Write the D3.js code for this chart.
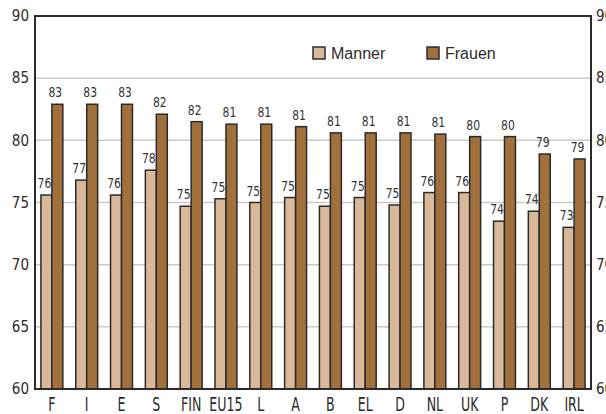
<!DOCTYPE html>
<html>
<head>
<meta charset="utf-8">
<script src="https://cdn.jsdelivr.net/npm/d3@7/dist/d3.min.js"></script>
<style>
  html, body { margin: 0; padding: 0; background: #fff; }
  svg { display: block; }
</style>
</head>
<body>
<svg id="chart" width="606" height="414"></svg>
<script>
// Life expectancy at birth by country, men vs. women
const countries = ["F", "I", "E", "S", "FIN", "EU15", "L", "A", "B", "EL", "D", "NL", "UK", "P", "DK", "IRL"];
const manner = [75.6, 76.8, 75.6, 77.6, 74.7, 75.3, 75.0, 75.4, 74.7, 75.4, 74.8, 75.8, 75.8, 73.5, 74.3, 73.0];
const frauen = [82.9, 82.9, 82.9, 82.1, 81.5, 81.3, 81.3, 81.1, 80.6, 80.6, 80.6, 80.5, 80.3, 80.3, 78.9, 78.5];
const seriesNames = ["Manner", "Frauen"];
const yTicks = [60, 65, 70, 75, 80, 85, 90];

const colors = { Manner: "#d8b899", Frauen: "#a1703d" };
const ink = "#2b2b2b";

const svg = d3.select("#chart");
const plotL = 35, plotR = 591, plotT = 16, plotB = 389;

const x = d3.scaleBand().domain(countries).range([plotL, plotR])
  .paddingInner(0.37).paddingOuter(0.17);
const xi = d3.scaleBand().domain(seriesNames).range([0, x.bandwidth()]);
const y = d3.scaleLinear().domain([60, 90]).range([plotB, plotT]);

const narrow = "'Liberation Sans Narrow', 'Arial Narrow', 'DejaVu Sans Condensed', sans-serif";

// horizontal gridlines
svg.append("g").selectAll("line")
  .data(yTicks.filter(t => t > 60 && t < 90))
  .join("line")
  .attr("x1", plotL).attr("x2", plotR)
  .attr("y1", d => y(d)).attr("y2", d => y(d))
  .attr("stroke", "#c9c9c9").attr("stroke-width", 1.5);

// left and right value axes
const axL = svg.append("g").attr("transform", `translate(${plotL},0)`)
  .call(d3.axisLeft(y).tickValues(yTicks).tickSize(0).tickPadding(6));
const axR = svg.append("g").attr("transform", `translate(${plotR},0)`)
  .call(d3.axisRight(y).tickValues(yTicks).tickSize(0).tickPadding(5));
[axL, axR].forEach(ax => {
  ax.select(".domain").remove();
  ax.selectAll("text")
    .attr("font-family", narrow).attr("font-size", 15)
    .attr("fill", ink);
});

// bars
const groups = svg.append("g").selectAll("g")
  .data(countries.map((c, i) => ({ c, vals: [
    { s: "Manner", v: manner[i] }, { s: "Frauen", v: frauen[i] }] })))
  .join("g")
  .attr("transform", d => `translate(${x(d.c)},0)`);

groups.selectAll("rect")
  .data(d => d.vals)
  .join("rect")
  .attr("x", d => xi(d.s))
  .attr("y", d => y(d.v))
  .attr("width", xi.bandwidth())
  .attr("height", d => y(60) - y(d.v))
  .attr("fill", d => colors[d.s])
  .attr("stroke", ink).attr("stroke-width", 1.5);

// value labels (rounded)
groups.selectAll("text")
  .data(d => d.vals)
  .join("text")
  .attr("transform", d => `translate(${xi(d.s) + xi.bandwidth() / 2 - 2},${y(d.v) - 7}) scale(1,1.1)`)
  .attr("text-anchor", "middle")
  .attr("font-family", narrow).attr("font-size", 12)
  .attr("fill", "#333")
  .text(d => d3.format(".0f")(d.v));

// frame
svg.append("rect")
  .attr("x", plotL).attr("y", plotT)
  .attr("width", plotR - plotL).attr("height", plotB - plotT)
  .attr("fill", "none").attr("stroke", ink).attr("stroke-width", 2);

// category labels
svg.append("g").selectAll("text")
  .data(countries)
  .join("text")
  .attr("transform", d => `translate(${x(d) + x.bandwidth() / 2},${411}) scale(1,1.35)`)
  .attr("text-anchor", "middle")
  .attr("font-family", narrow).attr("font-size", 14)
  .attr("fill", ink)
  .text(d => d);

// legend
const legendX = [313, 427];
const legend = svg.append("g").selectAll("g")
  .data(seriesNames)
  .join("g")
  .attr("transform", (d, i) => `translate(${legendX[i]},47)`);
legend.append("rect")
  .attr("width", 12).attr("height", 12)
  .attr("fill", d => colors[d])
  .attr("stroke", ink).attr("stroke-width", 1.5);
legend.append("text")
  .attr("x", 18).attr("y", 11.5)
  .attr("font-family", "'Liberation Sans', Arial, sans-serif")
  .attr("font-size", 16)
  .attr("fill", ink)
  .text(d => d);
</script>
</body>
</html>
